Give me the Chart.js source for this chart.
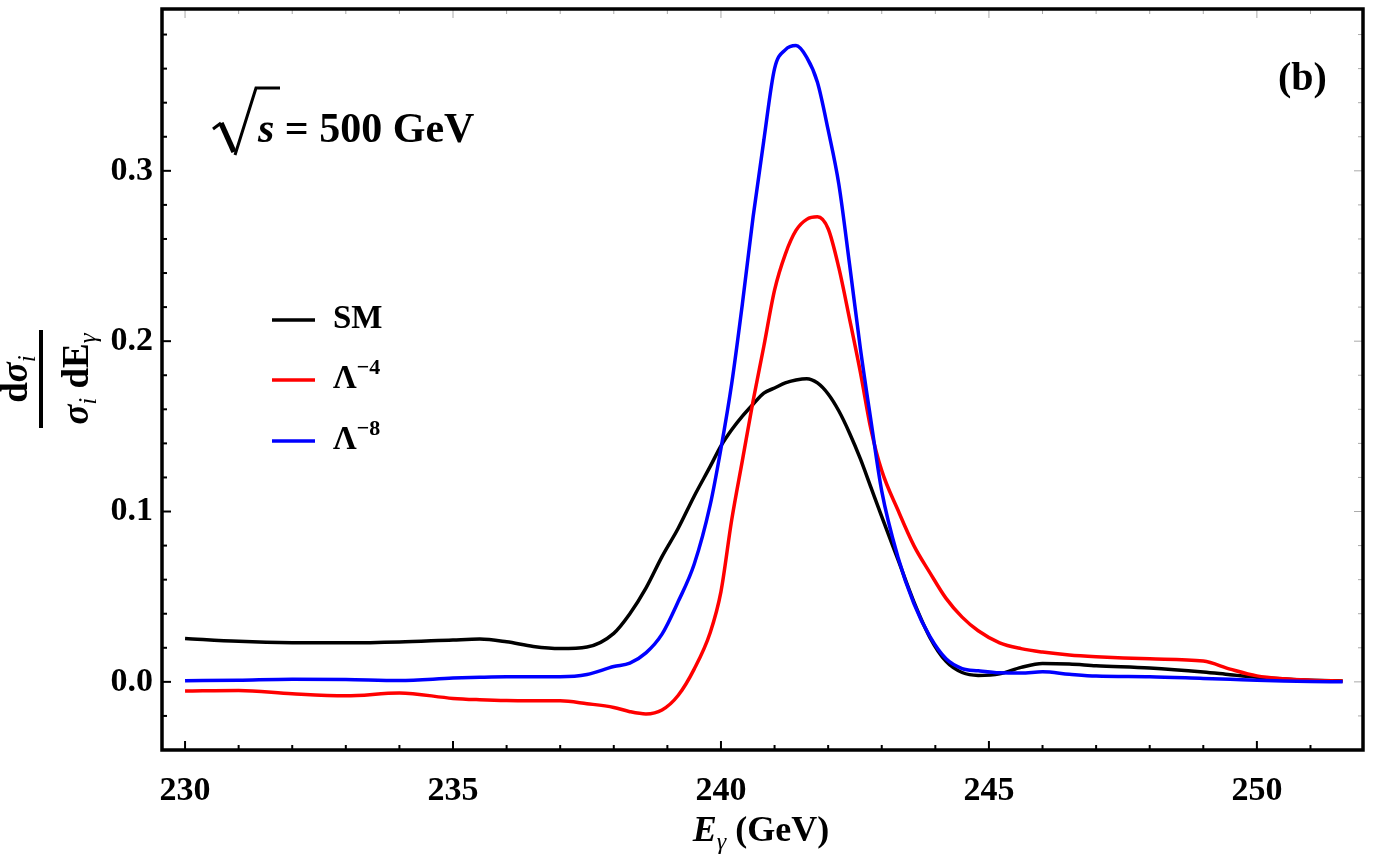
<!DOCTYPE html>
<html lang="en">
  <head>
    <meta charset="UTF-8" />
    <title>Photon energy spectrum, sqrt(s) = 500 GeV</title>
    <style>
      body {
        margin: 0;
        background: #fff;
      }
      #wrap {
        width: 1375px;
        height: 859px;
      }
    </style>
    <script src="https://cdn.jsdelivr.net/npm/chart.js"></script>
  </head>
  <body>
    <div id="wrap">
      <canvas id="spectrum" width="1375" height="859"></canvas>
    </div>
    <script>
      // photon energy E_gamma (GeV)
      const energy = [
        230, 231, 232, 233, 234, 235, 235.5, 236, 236.5, 237, 237.5, 238,
        238.3, 238.6, 238.9, 239.2, 239.5, 239.8, 240, 240.2, 240.4, 240.6,
        240.8, 241, 241.2, 241.4, 241.6, 241.8, 242, 242.2, 242.4, 242.6,
        242.8, 243, 243.3, 243.6, 243.9, 244.2, 244.5, 244.8, 245.2, 245.6,
        246, 246.5, 247, 248, 249, 249.5, 250, 250.5, 251, 251.6,
      ];

      const smValues = [
        0.0255, 0.0238, 0.023, 0.0229, 0.0234, 0.0246, 0.0251, 0.0235, 0.0208,
        0.0196, 0.0205, 0.0285, 0.04, 0.055, 0.0735, 0.09, 0.109, 0.1265,
        0.1385, 0.148, 0.156, 0.163, 0.1695, 0.1725, 0.1755, 0.1772, 0.178,
        0.1755, 0.169, 0.159, 0.146, 0.131, 0.114, 0.097, 0.072, 0.047, 0.026,
        0.012, 0.0055, 0.0038, 0.0047, 0.0085, 0.0108, 0.0105, 0.0095, 0.0082,
        0.0058, 0.0042, 0.0027, 0.0017, 0.001, 0.0005,
      ];

      const lambda4Values = [
        -0.0053, -0.005, -0.007, -0.0082, -0.0065, -0.0097, -0.0105, -0.011,
        -0.0111, -0.0111, -0.0128, -0.015, -0.0175, -0.0188, -0.0165, -0.008,
        0.0075, 0.029, 0.053, 0.095, 0.13, 0.165, 0.197, 0.23, 0.251, 0.265,
        0.2715, 0.273, 0.266, 0.243, 0.213, 0.182, 0.148, 0.124, 0.101, 0.08,
        0.064, 0.049, 0.038, 0.03, 0.0229, 0.0195, 0.0175, 0.0158, 0.0148,
        0.0135, 0.0122, 0.0075, 0.0035, 0.0018, 0.001, 0.0005,
      ];

      const lambda8Values = [
        0.0006, 0.001, 0.0016, 0.0014, 0.0008, 0.0022, 0.0027, 0.003, 0.003,
        0.003, 0.0043, 0.009, 0.011, 0.017, 0.028, 0.047, 0.069, 0.104, 0.137,
        0.175, 0.222, 0.273, 0.318, 0.36, 0.371, 0.3735, 0.3666, 0.352, 0.324,
        0.292, 0.245, 0.196, 0.153, 0.112, 0.0735, 0.046, 0.0265, 0.0135,
        0.0078, 0.0065, 0.0053, 0.0052, 0.0059, 0.0045, 0.0034, 0.003, 0.002,
        0.0015, 0.0009, 0.0005, 0.0002, 0,
      ];

      const xTickValues = [230, 235, 240, 245, 250];
      const xTickLabels = ["230", "235", "240", "245", "250"];
      const yTickValues = [0, 0.1, 0.2, 0.3];
      const yTickLabels = ["0.0", "0.1", "0.2", "0.3"];

      const seriesNames = ["SM", "Λ", "Λ"];
      const seriesPowers = ["", "−4", "−8"];
      const seriesColors = ["#000000", "#ff0000", "#0000ff"];

      const serif = '"Liberation Serif", "Times New Roman", serif';

      const toPoints = (vals) => energy.map((e, i) => ({ x: e, y: vals[i] }));

      // draws a run of text pieces [text, font, dy] one after another
      function drawRich(ctx, parts, x, y, align) {
        let total = 0;
        parts.forEach((p) => {
          ctx.font = p[1];
          total += ctx.measureText(p[0]).width;
        });
        let cx = align === "center" ? x - total / 2 : x;
        parts.forEach((p) => {
          ctx.font = p[1];
          ctx.fillText(p[0], cx, y + (p[2] || 0));
          cx += ctx.measureText(p[0]).width;
        });
      }

      const decorations = {
        id: "decorations",
        afterDatasetsDraw(chart) {
          const { ctx, chartArea: a } = chart;
          const xs = chart.scales.x;
          const ys = chart.scales.y;
          ctx.save();

          // inward ticks
          const tick = (x1, y1, x2, y2, color, w) => {
            ctx.strokeStyle = color;
            ctx.lineWidth = w;
            ctx.beginPath();
            ctx.moveTo(x1, y1);
            ctx.lineTo(x2, y2);
            ctx.stroke();
          };
          for (let v = 230; v <= 251; v++) {
            const px = xs.getPixelForValue(v);
            const major = xTickValues.includes(v);
            const len = major ? 9 : 5;
            tick(px, a.bottom, px, a.bottom - len, "#000", 2);
            tick(px, a.top, px, a.top + len, "#aaa", 1);
          }
          for (let k = -2; k <= 19; k++) {
            const v = k * 0.02;
            const py = ys.getPixelForValue(v);
            if (py >= a.bottom - 1) continue;
            const major = k % 5 === 0;
            const len = major ? 9 : 5;
            tick(a.left, py, a.left + len, py, "#000", 2);
            tick(a.right, py, a.right - len, py, "#aaa", 1);
          }

          // frame
          ctx.strokeStyle = "#000";
          ctx.lineWidth = 3.5;
          ctx.strokeRect(a.left, a.top, a.right - a.left, a.bottom - a.top);
          ctx.restore();
        },
        afterDraw(chart) {
          const ctx = chart.ctx;
          ctx.save();
          ctx.fillStyle = "#000";
          ctx.textBaseline = "alphabetic";

          // x axis title
          drawRich(
            ctx,
            [
              ["E", "italic bold 36px " + serif],
              ["γ", "italic 24px " + serif, 8],
              [" (GeV)", "bold 36px " + serif],
            ],
            761,
            841,
            "center"
          );

          // y axis title as a rotated fraction
          ctx.save();
          ctx.translate(41, 379);
          ctx.rotate(-Math.PI / 2);
          drawRich(
            ctx,
            [
              ["d", "bold 37px " + serif],
              ["σ", "italic bold 37px " + serif],
              ["i", "italic 25px " + serif, 8],
            ],
            0,
            -14,
            "center"
          );
          drawRich(
            ctx,
            [
              ["σ", "italic bold 37px " + serif],
              ["i", "italic 25px " + serif, 8],
              [" dE", "bold 37px " + serif],
              ["γ", "italic 25px " + serif, 8],
            ],
            0,
            47,
            "center"
          );
          ctx.fillRect(-49, -2, 98, 4);
          ctx.restore();

          // sqrt(s) = 500 GeV
          ctx.strokeStyle = "#000";
          ctx.lineJoin = "miter";
          ctx.lineWidth = 3;
          ctx.beginPath();
          ctx.moveTo(213, 129);
          ctx.lineTo(221, 123);
          ctx.stroke();
          ctx.lineWidth = 5.5;
          ctx.beginPath();
          ctx.moveTo(221, 123);
          ctx.lineTo(234, 152);
          ctx.stroke();
          ctx.lineWidth = 3;
          ctx.beginPath();
          ctx.moveTo(235, 155);
          ctx.lineTo(256, 88);
          ctx.lineTo(280, 88);
          ctx.stroke();
          drawRich(
            ctx,
            [
              ["s", "italic bold 42px " + serif],
              [" = 500 GeV", "bold 42px " + serif],
            ],
            258,
            142
          );

          // panel tag
          ctx.font = "bold 40px " + serif;
          ctx.fillText("(b)", 1278, 90);

          // legend
          const rows = [320, 380, 441];
          rows.forEach((ly, i) => {
            ctx.strokeStyle = seriesColors[i];
            ctx.lineWidth = 3.5;
            ctx.beginPath();
            ctx.moveTo(272, ly);
            ctx.lineTo(315, ly);
            ctx.stroke();
            const parts = [[seriesNames[i], "bold 33px " + serif]];
            if (seriesPowers[i]) parts.push([seriesPowers[i], "bold 22px " + serif, -14]);
            drawRich(ctx, parts, 333, ly + 8);
          });

          ctx.restore();
        },
      };

      const makeSet = (label, vals, color, order) => ({
        label: label,
        data: toPoints(vals),
        borderColor: color,
        borderWidth: 3.5,
        pointRadius: 0,
        fill: false,
        cubicInterpolationMode: "monotone",
        order: order,
      });

      const config = {
        type: "line",
        data: {
          datasets: [
            makeSet("SM", smValues, seriesColors[0], 3),
            makeSet("Λ^-4", lambda4Values, seriesColors[1], 2),
            makeSet("Λ^-8", lambda8Values, seriesColors[2], 1),
          ],
        },
        options: {
          responsive: false,
          animation: false,
          layout: { padding: { top: 9, right: 12, left: 0, bottom: 0 } },
          plugins: {
            legend: { display: false },
            tooltip: { enabled: false },
          },
          scales: {
            x: {
              type: "linear",
              min: 229.57,
              max: 251.98,
              grid: { display: false, drawTicks: false },
              border: { display: false },
              afterBuildTicks: (scale) => {
                scale.ticks = xTickValues.map((v) => ({ value: v }));
              },
              afterFit: (scale) => {
                scale.height = 109;
                scale.paddingLeft = 0;
                scale.paddingRight = 0;
              },
              ticks: {
                autoSkip: false,
                maxRotation: 0,
                padding: 21,
                color: "#000",
                font: { family: serif, size: 34, weight: "bold" },
                callback: (v) => xTickLabels[xTickValues.indexOf(v)],
              },
            },
            y: {
              type: "linear",
              min: -0.04,
              max: 0.395,
              grid: { display: false, drawTicks: false },
              border: { display: false },
              afterBuildTicks: (scale) => {
                scale.ticks = yTickValues.map((v) => ({ value: v }));
              },
              afterFit: (scale) => {
                scale.width = 162;
                scale.paddingTop = 0;
                scale.paddingBottom = 0;
              },
              ticks: {
                padding: 9,
                color: "#000",
                font: { family: serif, size: 34, weight: "bold" },
                callback: (v) => yTickLabels[yTickValues.indexOf(v)],
              },
            },
          },
        },
        plugins: [decorations],
      };

      const spectrumChart = new Chart(document.getElementById("spectrum"), config);
    </script>
  </body>
</html>
